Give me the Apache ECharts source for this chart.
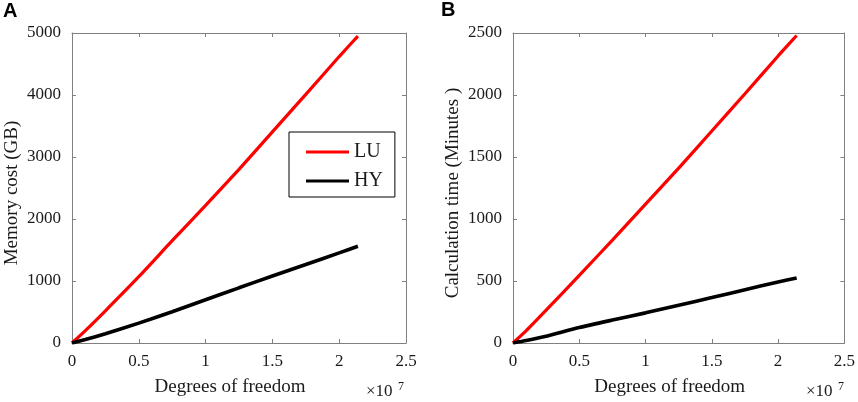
<!DOCTYPE html>
<html>
<head>
<meta charset="utf-8">
<script src="https://cdn.jsdelivr.net/npm/echarts@6/dist/echarts.min.js"></script>
<style>html,body{margin:0;padding:0;background:#fff}#c{width:858px;height:402px}</style>
</head>
<body>
<div id="c"></div>
<script>
// Degrees of freedom, in units of 1e7
var dof_x1e7 = [0, 0.1, 0.25, 0.5, 0.75, 1.0, 1.25, 1.5, 1.75, 2.0, 2.14];
// Panel A: memory cost (GB)
var memLU = [0, 200, 520, 1070, 1650, 2220, 2800, 3405, 4010, 4620, 4950];
var memHY = [0, 55, 150, 320, 505, 697, 890, 1080, 1265, 1453, 1560];
// Panel B: calculation time (minutes)
var timeLU = [0, 100, 265, 545, 830, 1120, 1410, 1710, 2010, 2315, 2480];
var timeHY = [0, 20, 55, 125, 185, 243, 305, 366, 430, 492, 524];
var seriesNames = ['LU', 'HY'];
var xTicks = {min: 0, max: 2.5, interval: 0.5};
var yTicksA = {min: 0, max: 5000, interval: 1000};
var yTicksB = {min: 0, max: 2500, interval: 500};

function pairs(xs, ys) { return xs.map(function (x, i) { return [x, ys[i]]; }); }

var serif = 'Liberation Serif';
var axisGray = '#808080';
var textCol = '#1a1a1a';
function plain(v) { return String(v); }

function xAxisMain(gi) {
  return {
    type: 'value', gridIndex: gi, min: xTicks.min, max: xTicks.max, interval: xTicks.interval,
    name: 'Degrees of freedom', nameLocation: 'middle', nameGap: 35,
    nameTextStyle: {fontFamily: serif, fontSize: 19, color: textCol, padding: [0, 18, 0, 0]},
    axisLine: {show: true, onZero: false, lineStyle: {color: axisGray, width: 1}},
    axisTick: {show: true, inside: true, length: 4, lineStyle: {color: axisGray}},
    axisLabel: {fontFamily: serif, fontSize: 17, color: textCol, margin: 10, formatter: plain},
    splitLine: {show: false}
  };
}
function xAxisTop(gi) {
  return {
    type: 'value', gridIndex: gi, position: 'top', min: xTicks.min, max: xTicks.max, interval: xTicks.interval,
    axisLine: {show: true, onZero: false, lineStyle: {color: axisGray, width: 1}},
    axisTick: {show: true, inside: true, length: 4, lineStyle: {color: axisGray}},
    axisLabel: {show: false}, splitLine: {show: false}
  };
}
function yAxisMain(gi, t, name) {
  return {
    type: 'value', gridIndex: gi, min: t.min, max: t.max, interval: t.interval,
    name: name, nameLocation: 'middle', nameGap: 50, nameRotate: 90,
    nameTextStyle: {fontFamily: serif, fontSize: 19, color: textCol, padding: [0, 10, 0, 0]},
    axisLine: {show: true, onZero: false, lineStyle: {color: axisGray, width: 1}},
    axisTick: {show: true, inside: true, length: 4, lineStyle: {color: axisGray}},
    axisLabel: {fontFamily: serif, fontSize: 17, color: textCol, margin: 11, formatter: plain},
    splitLine: {show: false}
  };
}
function yAxisRight(gi, t) {
  return {
    type: 'value', gridIndex: gi, position: 'right', min: t.min, max: t.max, interval: t.interval,
    axisLine: {show: true, onZero: false, lineStyle: {color: axisGray, width: 1}},
    axisTick: {show: true, inside: true, length: 4, lineStyle: {color: axisGray}},
    axisLabel: {show: false}, splitLine: {show: false}
  };
}
function lineSeries(name, color, width, xi, yi, data) {
  return {
    type: 'line', name: name, xAxisIndex: xi, yAxisIndex: yi, data: data,
    symbol: 'none', showSymbol: false, smooth: 0.2,
    lineStyle: {color: color, width: width}, itemStyle: {color: color},
    animation: false, z: 3
  };
}

var chart = echarts.init(document.getElementById('c'), null, {renderer: 'canvas'});
chart.setOption({
  backgroundColor: '#fff',
  animation: false,
  grid: [
    {left: 72, top: 33, width: 334, height: 312},
    {left: 513, top: 33, width: 334, height: 312}
  ],
  xAxis: [xAxisMain(0), xAxisTop(0), xAxisMain(1), xAxisTop(1)],
  yAxis: [yAxisMain(0, yTicksA, 'Memory cost (GB)'), yAxisRight(0, yTicksA),
          yAxisMain(1, yTicksB, 'Calculation time (Minutes )'), yAxisRight(1, yTicksB)],
  legend: {
    data: seriesNames, orient: 'vertical', left: 289, top: 132,
    padding: [10, 12, 6, 17], itemGap: 9, itemWidth: 43, itemHeight: 3, itemTextGap: 9,
    borderColor: '#000', borderWidth: 1, backgroundColor: '#fff',
    icon: 'rect',
    textStyle: {fontFamily: serif, fontSize: 20, color: textCol, lineHeight: 20}
  },
  series: [
    lineSeries(seriesNames[0], '#ff0000', 3.2, 0, 0, pairs(dof_x1e7, memLU)),
    lineSeries(seriesNames[1], '#000000', 3.6, 0, 0, pairs(dof_x1e7, memHY)),
    lineSeries(seriesNames[0], '#ff0000', 3.2, 2, 2, pairs(dof_x1e7, timeLU)),
    lineSeries(seriesNames[1], '#000000', 3.6, 2, 2, pairs(dof_x1e7, timeHY))
  ],
  graphic: [
    {type: 'text', left: 3, top: 1, style: {text: 'A', fontFamily: 'Liberation Sans', fontWeight: 'bold', fontSize: 20, fill: '#000'}},
    {type: 'text', left: 441, top: 0, style: {text: 'B', fontFamily: 'Liberation Sans', fontWeight: 'bold', fontSize: 20, fill: '#000'}},
    {type: 'text', left: 366, top: 383, style: {text: '×10', fontFamily: serif, fontSize: 17, fill: textCol}},
    {type: 'text', left: 398, top: 381, style: {text: '7', fontFamily: serif, fontSize: 12, fill: textCol}},
    {type: 'text', left: 806, top: 383, style: {text: '×10', fontFamily: serif, fontSize: 17, fill: textCol}},
    {type: 'text', left: 838, top: 381, style: {text: '7', fontFamily: serif, fontSize: 12, fill: textCol}}
  ]
});
</script>
</body>
</html>
